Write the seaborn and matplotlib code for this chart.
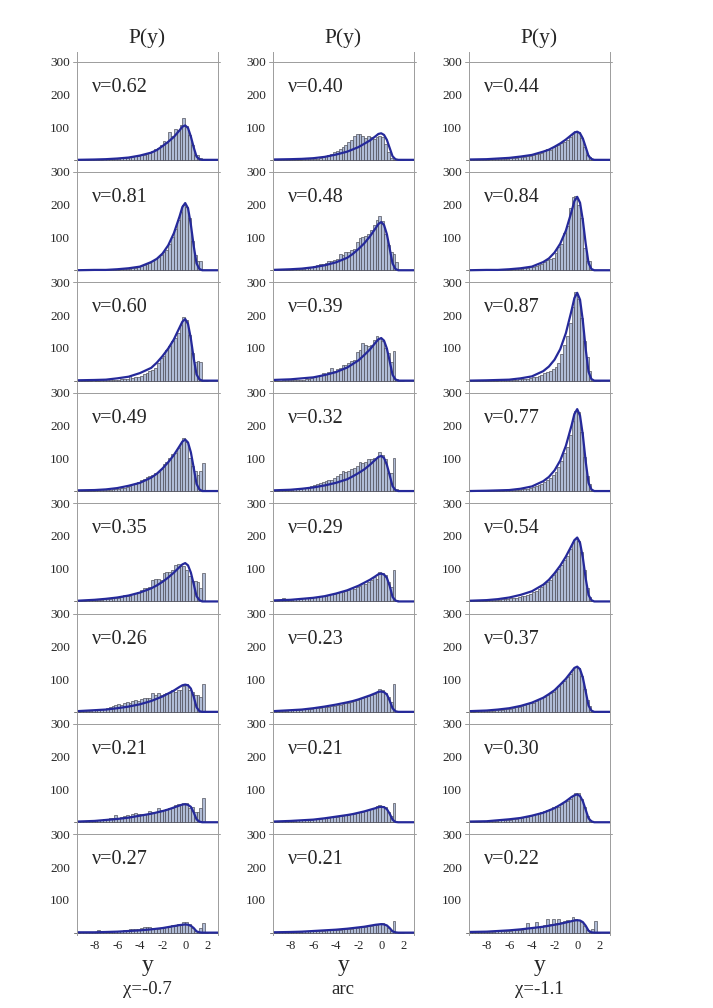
import matplotlib
matplotlib.use("Agg")
import matplotlib.pyplot as plt
import numpy as np
import pandas as pd
import seaborn as sns

sns.set_style("white")
plt.rcParams['font.family'] = ['Liberation Serif', 'DejaVu Serif']
plt.rcParams['axes.unicode_minus'] = False

col_labels = ["χ=-0.7", "arc", "χ=-1.1"]
x_ticks = [-8, -6, -4, -2, 0, 2]
y_ticks = [100, 200, 300]

# histogram bins (width 0.25) and the x positions where the fitted curve was read
bin_edges = [round(-9.5 + 0.25 * i, 2) for i in range(47)]
bin_centers = [e + 0.125 for e in bin_edges[:-1]]
curve_x = [-9.6, -8, -7, -6, -5, -4, -3, -2.5, -2, -1.5, -1, -0.5, -0.25,
           0, 0.25, 0.5, 0.75, 1.0, 1.25, 1.5, 3.0]

# ---- column 1 : chi = -0.7
nu_c1 = [0.62, 0.81, 0.60, 0.49, 0.35, 0.26, 0.21, 0.27]
curve_c1 = [
    [0, 1, 2, 4, 7, 13, 22, 30, 42, 55, 70, 90, 101, 105, 97, 71, 38, 10, 2, 0, 0],
    [0, 1, 1, 3, 6, 11, 25, 35, 51, 76, 113, 164, 193, 205, 189, 139, 74, 21, 4, 0, 0],
    [1, 2, 3, 7, 12, 23, 39, 55, 75, 98, 126, 162, 180, 188, 173, 128, 68, 19, 4, 0, 0],
    [2, 3, 5, 9, 16, 25, 41, 53, 69, 88, 110, 137, 151, 157, 148, 118, 71, 22, 5, 0, 0],
    [2, 5, 8, 12, 18, 27, 40, 49, 60, 73, 88, 105, 113, 117, 110, 88, 53, 16, 4, 0, 0],
    [2, 5, 7, 11, 16, 23, 33, 40, 47, 56, 65, 76, 81, 83, 81, 71, 46, 14, 2, 0, 0],
    [2, 4, 7, 10, 14, 20, 26, 30, 34, 39, 45, 51, 54, 55, 53, 47, 30, 9, 2, 0, 0],
    [1, 1, 2, 3, 5, 7, 10, 12, 14, 17, 20, 23, 24, 25, 24, 21, 14, 4, 1, 0, 0],
]
bars_c1 = [
    [0,0,0,0,0,1,0,1,1,2, 2,3,3,4,4,5,6,7, 8,9,11,12,14,15,17,20, 27,32,35,45,
     56,50,84,74,94,90,105,128, 102,75,45,16,15,6,0,0],
    [0,0,0,0,0,0,0,0,1,0, 1,1,1,2,2,3,3,4, 5,6,8,10,12,15,19,22, 28,33,40,48,
     55,62,80,100,125,152,178,198, 193,160,90,45,27,27,0,0],
    [0,0,0,0,0,1,0,0,1,1, 1,2,2,3,3,4,5,6, 13,9,10,12,15,19,23,28, 33,39,54,69,
     75,95,105,120,130,145,170,193, 185,140,84,58,60,58,0,0],
    [0,0,1,1,1,1,2,2,2,3, 4,4,5,6,7,8,10,12, 16,20,22,28,35,38,42,46, 50,54,58,66,
     81,88,100,112,117,132,147,163, 150,100,75,60,50,60,85,0],
    [1,2,2,3,3,4,4,5,5,6, 7,8,9,10,12,14,20,16, 18,22,25,30,36,41,41,45, 66,68,68,66,
     86,91,91,97,110,115,109,107, 95,78,61,61,58,41,86,0],
    [1,2,2,3,4,5,6,7,9,10, 13,15,18,21,24,22,26,30, 28,33,36,34,39,41,43,42, 58,50,56,51,
     53,56,58,66,61,66,66,78, 86,66,60,51,50,46,86,0],
    [3,4,4,5,6,6,7,7,8,9, 10,13,12,21,14,16,18,21, 20,24,28,26,26,25,26,34, 30,32,44,38,
     37,40,44,42,52,55,57,59, 59,44,46,30,30,42,75,0],
    [0,1,1,1,1,2,1,8,5,3, 3,3,4,5,4,5,9,8, 10,12,10,12,15,17,17,16, 14,14,12,15,
     15,16,18,22,20,25,27,33, 31,25,14,6,4,15,28,0],
]

# ---- column 2 : arc
nu_c2 = [0.40, 0.48, 0.39, 0.32, 0.29, 0.23, 0.21, 0.21]
curve_c2 = [
    [1, 2, 3, 5, 9, 16, 25, 32, 39, 49, 59, 72, 79, 81, 76, 61, 36, 11, 2, 0, 0],
    [1, 3, 5, 9, 15, 24, 38, 50, 65, 82, 103, 128, 141, 147, 138, 110, 66, 21, 4, 0, 0],
    [2, 4, 7, 10, 17, 26, 40, 51, 62, 78, 95, 116, 126, 130, 122, 98, 59, 18, 4, 0, 0],
    [2, 4, 7, 11, 17, 25, 36, 45, 55, 66, 80, 96, 104, 107, 101, 80, 48, 15, 3, 0, 0],
    [3, 5, 8, 11, 16, 24, 34, 41, 48, 57, 66, 77, 83, 85, 82, 72, 47, 14, 3, 0, 0],
    [2, 5, 7, 11, 16, 22, 29, 33, 38, 44, 50, 57, 61, 62, 60, 53, 34, 11, 2, 0, 0],
    [2, 4, 6, 8, 12, 17, 22, 25, 29, 33, 38, 43, 46, 47, 46, 40, 26, 8, 1, 0, 0],
    [1, 2, 3, 5, 7, 9, 12, 14, 16, 18, 21, 24, 25, 26, 25, 22, 14, 4, 1, 0, 0],
]
bars_c2 = [
    [0,0,0,0,0,0,1,1,1,1, 2,2,2,3,3,4,6,8, 13,15,18,23,28,34,39,45, 54,62,74,80,
     80,72,66,74,69,64,70,74, 69,49,23,5,0,0,0,0],
    [0,0,1,1,1,2,2,3,3,4, 5,7,8,10,13,15,18,20, 23,27,27,30,35,51,48,56, 56,61,66,86,
     97,100,105,112,122,137,152,165, 150,110,76,56,51,25,0,0],
    [0,0,0,1,1,1,2,2,2,3, 3,4,6,8,10,14,18,23, 20,25,39,30,34,38,47,49, 54,60,64,86,
     94,115,110,107,110,125,135,130, 120,100,84,56,89,5,0,0],
    [1,1,2,2,3,3,4,5,6,7, 9,10,12,15,17,20,25,27, 30,33,35,40,45,52,61,59, 62,66,70,76,
     88,86,90,97,97,100,102,119, 110,97,56,56,102,5,0,0],
    [2,2,3,12,4,4,5,6,7,8, 9,10,11,12,13,14,18,16, 18,20,22,24,25,28,30,32, 35,40,38,44,
     48,55,52,60,66,75,70,90, 88,80,60,45,95,5,0,0],
    [2,3,3,4,4,5,5,6,6,7, 8,8,9,10,11,12,13,14, 15,16,17,19,20,22,24,26, 28,30,33,35,
     40,42,45,48,50,55,62,70, 66,58,45,30,85,3,0,0],
    [2,2,3,3,4,4,5,5,6,6, 7,7,8,8,9,10,11,12, 13,14,15,16,17,18,20,21, 22,24,25,27,
     30,32,35,37,40,44,50,52, 50,46,32,20,58,2,0,0],
    [1,1,1,2,2,2,2,3,3,3, 4,4,4,5,5,5,6,6, 7,7,8,8,9,9,10,11, 12,12,13,14,
     16,17,18,20,21,22,24,27, 28,22,14,6,35,2,0,0],
]

# ---- column 3 : chi = -1.1
nu_c3 = [0.44, 0.84, 0.87, 0.77, 0.54, 0.37, 0.30, 0.22]
curve_c3 = [
    [1, 2, 4, 6, 10, 15, 25, 31, 40, 50, 62, 76, 83, 86, 81, 65, 39, 12, 3, 0, 0],
    [0, 1, 1, 3, 6, 11, 25, 36, 54, 81, 121, 179, 211, 224, 206, 152, 81, 22, 4, 0, 0],
    [0, 1, 2, 3, 7, 13, 29, 43, 64, 96, 145, 214, 252, 268, 247, 182, 96, 27, 5, 0, 0],
    [0, 1, 2, 3, 7, 14, 30, 43, 63, 93, 138, 200, 235, 250, 230, 170, 90, 25, 5, 0, 0],
    [2, 4, 7, 12, 20, 31, 51, 66, 86, 109, 137, 170, 187, 195, 179, 133, 70, 20, 4, 0, 0],
    [2, 4, 7, 11, 18, 28, 43, 54, 66, 83, 101, 123, 134, 138, 130, 104, 62, 19, 4, 0, 0],
    [2, 3, 6, 9, 13, 20, 29, 36, 43, 53, 64, 77, 82, 85, 80, 64, 38, 12, 3, 0, 0],
    [2, 3, 5, 7, 10, 14, 18, 21, 24, 27, 31, 35, 37, 38, 37, 32, 21, 6, 1, 0, 0],
]
bars_c3 = [
    [0,0,1,1,1,1,1,2,2,2, 3,3,4,4,5,6,7,8, 9,10,12,13,15,17,19,22, 27,32,30,38,
     42,45,50,55,62,70,78,88, 85,68,40,14,8,0,0,0],
    [0,0,0,0,0,0,0,0,0,1, 1,1,1,2,2,3,3,4, 5,6,8,9,11,13,16,20, 24,30,33,36,
     54,70,79,115,135,191,225,227, 200,160,69,28,28,0,0,0],
    [0,0,0,0,0,0,0,0,0,0, 1,1,1,1,2,2,3,4, 4,5,6,8,10,12,15,18, 22,25,28,35,
     41,55,80,110,135,175,225,270, 250,190,122,71,28,0,0,0],
    [0,0,0,0,0,0,0,0,1,1, 1,1,2,2,2,3,3,4, 5,6,7,9,11,14,18,22, 28,35,40,50,
     58,72,92,115,135,170,215,245, 240,180,105,45,20,0,0,0],
    [1,1,1,2,2,2,3,3,4,4, 5,6,7,8,9,11,12,14, 16,18,21,24,28,32,38,45, 52,58,66,80,
     90,100,112,125,140,160,180,192, 185,150,95,40,15,0,0,0],
    [1,1,2,2,2,3,3,4,4,5, 6,7,8,9,10,12,14,16, 18,21,24,26,28,32,38,42, 45,52,58,62,
     72,80,88,95,105,115,128,138, 135,110,70,35,18,0,0,0],
    [1,1,2,2,3,3,4,4,5,5, 6,6,7,8,8,9,10,12, 14,15,17,19,22,24,28,30, 34,38,40,45,
     50,48,55,62,65,72,80,90, 88,72,45,20,8,0,0,0],
    [1,1,1,2,2,2,3,3,3,4, 4,5,5,6,6,7,8,8, 9,12,28,14,16,33,18,20, 22,41,25,41,
     30,43,32,35,38,36,49,42, 39,33,20,8,3,11,34,0],
]

nus = [nu_c1, nu_c2, nu_c3]
curves = [curve_c1, curve_c2, curve_c3]
bars = [bars_c1, bars_c2, bars_c3]

bar_fill = "#b0bcd6"
bar_edge = "#44444e"
curve_color = "#25299a"
frame_gray = "#9c9c9c"

W, H = 713, 1008
fig = plt.figure(figsize=(W / 100, H / 100), dpi=100)

col_left = [77, 273, 469]
col_w = 140.5
top_px = 51.7
row_px = 110.4

for c in range(3):
    for r in range(8):
        ax = fig.add_axes([col_left[c] / W, 1 - (top_px + (r + 1) * row_px) / H,
                           col_w / W, row_px / H])
        ax.axhline(300, color=frame_gray, lw=0.7, xmin=-0.025, xmax=1.015, clip_on=False, zorder=0)
        ax.axhline(0, color="#777777", lw=0.7, xmin=-0.02, clip_on=False, zorder=0)
        hist_df = pd.DataFrame({"y": bin_centers, "n": bars[c][r]})
        line_df = pd.DataFrame({"y": curve_x, "p": curves[c][r]})
        sns.histplot(data=hist_df, x="y", weights="n", bins=bin_edges, ax=ax,
                     color=bar_fill, edgecolor=bar_edge, linewidth=0.45, alpha=1)
        sns.lineplot(data=line_df, x="y", y="p", ax=ax, color=curve_color, linewidth=1.6)
        ax.set_xlim(-9.55, 2.85)
        ax.set_ylim(-6.9, 330)
        ax.set_xlabel("")
        ax.set_ylabel("")
        for s in ["top", "bottom"]:
            ax.spines[s].set_visible(False)
        for s in ["left", "right"]:
            ax.spines[s].set_color(frame_gray)
            ax.spines[s].set_linewidth(0.7)
        ax.set_yticks(y_ticks)
        ax.tick_params(axis="y", length=3, width=0.6, color=frame_gray, labelsize=9.5, pad=2)
        ax.set_xticks(x_ticks)
        if r == 7:
            ax.tick_params(axis="x", length=0, labelsize=9, pad=4)
        else:
            ax.tick_params(axis="x", length=0, labelbottom=False)
        ax.text(0.11, 208, f"ν={nus[c][r]:.2f}", transform=ax.get_yaxis_transform(),
                fontsize=14.5, va="baseline", ha="left")

    cx = (col_left[c] + col_w / 2) / W
    fig.text(cx, 1 - 38 / H, "P(y)", ha="center", va="center", fontsize=15.5)
    fig.text(cx, 1 - 966 / H, "y", ha="center", va="center", fontsize=17)
    fig.text(cx, 1 - 990 / H, col_labels[c], ha="center", va="center", fontsize=13.5)

fig.savefig("out.png", dpi=100)
